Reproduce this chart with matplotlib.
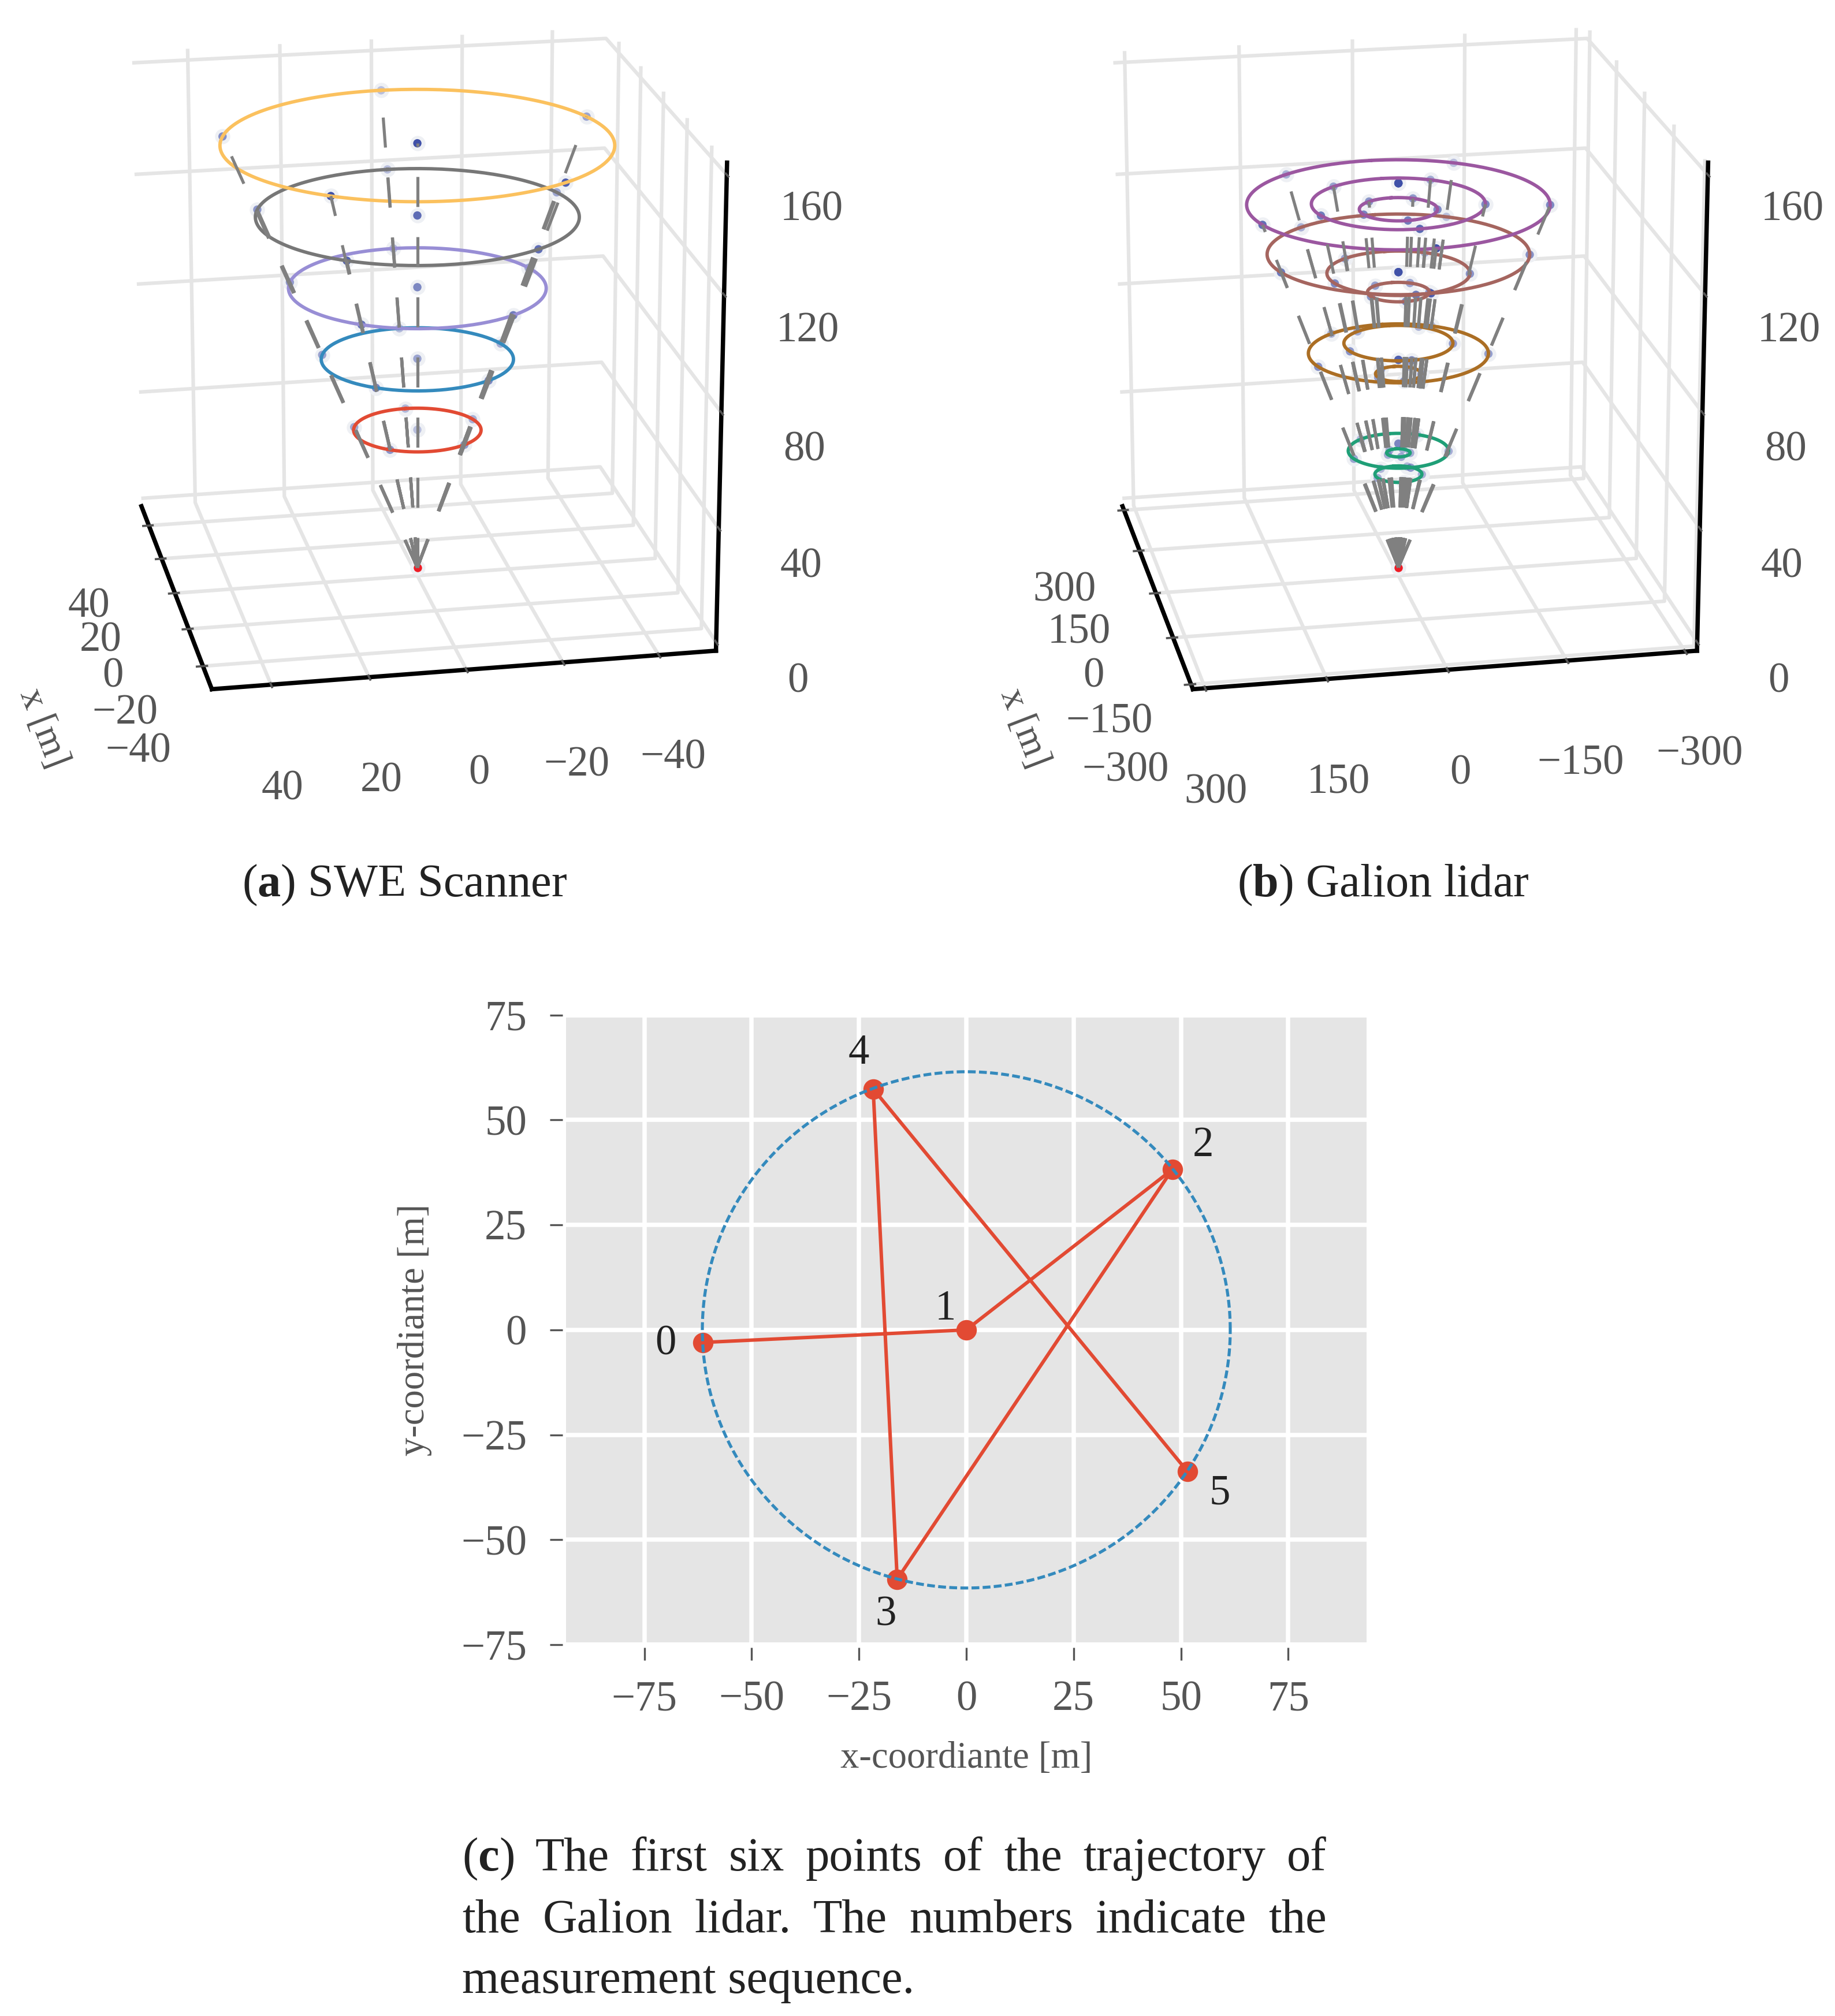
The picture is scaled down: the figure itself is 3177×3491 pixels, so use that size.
#!/usr/bin/env python3
import numpy as np
import matplotlib
matplotlib.use("Agg")
import matplotlib.pyplot as plt

plt.rcParams['font.family'] = ['Liberation Serif', 'DejaVu Serif']
plt.rcParams['mathtext.fontset'] = 'custom'
plt.rcParams['mathtext.rm'] = 'Liberation Serif'
plt.rcParams['mathtext.bf'] = 'Liberation Serif:bold'

# ----------------------------------------------------------------------
# Data
# ----------------------------------------------------------------------
swe_ticks = [-40, -20, 0, 20, 40]
swe_lim = 52
swe_heights = [50, 75.4, 100.7, 125.8, 150.8]
swe_radii = [13.4, 20.1, 26.8, 33.5, 40.6]
swe_colors = ['#E24A33', '#348ABD', '#988ED5', '#777777', '#FBC15E']
swe_angles = [0, 72, 144, 216, 288]

gal_ticks = [-300, -150, 0, 150, 300]
gal_lim = 315
gal_heights = [42.5, 34, 41.7, 77.5, 81, 70, 112.6, 105.7, 99, 130, 130, 128]
gal_radii = [64, 30, 15, 114, 69, 29, 165, 90, 39, 190, 109, 49]
gal_colors = ['#1F9F77'] * 3 + ['#AB6E24'] * 3 + ['#A5655F'] * 3 + ['#9B57A0'] * 3
gal_angles = [38, -33, -103, -177, 107]
gal_centre = [45, 75, 106, 137]

z_ticks = [0, 40, 80, 120, 160]

traj_x = [-61.4, 0, 48, -16.1, -21.7, 51.5]
traj_y = [-3, 0, 38.2, -59.4, 57.4, -33.7]
traj_labels = ['0', '1', '2', '3', '4', '5']
label_x = [-70, -4.9, 55.2, -18.7, -25, 59]
label_y = [-3.4, 4.9, 43.9, -68, 65.8, -39]
scan_radius = 61.5
ticks_c = [-75, -50, -25, 0, 25, 50, 75]

caption_lines = [
    ['($\\mathbf{c}$)', 'The', 'first', 'six', 'points', 'of', 'the', 'trajectory', 'of'],
    ['the', 'Galion', 'lidar.', ' The', 'numbers', 'indicate', 'the'],
]
caption_last = 'measurement sequence.'

# ----------------------------------------------------------------------
W, H = 1429.0, 1569.0   # layout below in preview pixels
DARK = '#222222'
GREY = '#555555'
TICK_FS = 17.5
LABEL_FS = 15.5
CAP_FS = 19.3


def px(x):
    return x / W


def py(y):
    return 1 - y / H


def draw_cone(rect, lim, ticks, heights, radii, colors, angles, centre, centre_beam):
    ax = fig.add_axes(rect, projection='3d', computed_zorder=False)
    ax.set_proj_type('persp')
    ax.view_init(elev=19, azim=169)
    ax.set_box_aspect((1, 1, 1.0), zoom=0.978)
    ax.set_xlim(-lim, lim)
    ax.set_ylim(-lim, lim)
    ax.set_zlim(-3, 164)
    ax.set_xticks(ticks)
    ax.set_yticks(ticks)
    ax.set_zticks(z_ticks)
    ax.patch.set_alpha(0)

    for axis in (ax.xaxis, ax.yaxis, ax.zaxis):
        axis.pane.set_facecolor((1, 1, 1, 0))
        axis.pane.set_edgecolor((1, 1, 1, 0))
        axis.line.set_color('black')
        axis.line.set_linewidth(1.8)
        axis._axinfo['grid'].update(color='#E5E5E5', linewidth=1.5)
        axis._axinfo['tick'].update(inward_factor=0.15, outward_factor=0.1,
                                    linewidth={True: 0.9, False: 0.9})
    ax.tick_params(axis='both', colors=GREY, labelsize=TICK_FS)
    ax.tick_params(axis='x', pad=16)
    ax.tick_params(axis='y', pad=15)
    ax.tick_params(axis='z', pad=16)
    ax.set_xlabel('x [m]', fontsize=LABEL_FS, color=GREY, labelpad=30)

    th = np.radians(angles)
    pt_x, pt_y, pt_z = [], [], []
    for z, r in zip(heights, radii):
        pt_x.extend(r * np.cos(th))
        pt_y.extend(r * np.sin(th))
        pt_z.extend([z] * len(th))
    cx = [0] * len(centre)
    # halos then points
    ax.scatter(pt_x + cx + [0], pt_y + cx + [0], pt_z + centre + [0], s=40,
               color='#EEF0F4', depthshade=False, linewidths=0, zorder=1)
    ax.scatter(pt_x, pt_y, pt_z, s=12, color='#3F50A8', depthshade=True,
               linewidths=0, zorder=2)
    # the Galion centre points were measured several times, so they are darker
    repeat = 1 if centre_beam else 3
    for k in range(repeat):
        ax.scatter(cx, cx, centre, s=12, color='#3F50A8', depthshade=True,
                   linewidths=0, zorder=2)
    ax.scatter([0], [0], [0], s=12, color='#EE1C25', depthshade=False,
               linewidths=0, zorder=2)

    # rings
    circ = np.linspace(0, 2 * np.pi, 181)
    for z, r, c in zip(heights, radii, colors):
        ax.plot(r * np.cos(circ), r * np.sin(circ), z, color=c, lw=1.4, zorder=3)

    # beams
    for x, y, z in zip(pt_x, pt_y, pt_z):
        ax.plot([0, x], [0, y], [0, z], color='#808080', lw=1.25,
                linestyle=(0, (10, 10)), dash_capstyle='butt', zorder=4)
    if centre_beam:
        ax.plot([0, 0], [0, 0], [0, max(centre)], color='#808080', lw=1.25,
                linestyle=(0, (10, 10)), dash_capstyle='butt', zorder=4)
    return ax


fig = plt.figure(figsize=(3177 / 300, 3491 / 300), dpi=300)

ax_a = draw_cone([px(-37), py(610), px(706), 666 / H], swe_lim, swe_ticks, swe_heights,
                 swe_radii, swe_colors, swe_angles, swe_heights, True)
ax_b = draw_cone([px(727), py(610), px(706), 666 / H], gal_lim, gal_ticks, gal_heights,
                 gal_radii, gal_colors, gal_angles, gal_centre, False)

# ----------------------------------------------------------------------
# panel c
# ----------------------------------------------------------------------
ax_c = fig.add_axes([px(441), py(1280), px(1064 - 441), (1280 - 790) / H])
ax_c.set_facecolor('none')
ax_c.set_xlim(-93.2, 93.2)
ax_c.set_ylim(-75, 75)
ax_c.axhspan(-74.4, 74.4, color='#E5E5E5', lw=0, zorder=0)
ax_c.set_xticks(ticks_c)
ax_c.set_yticks(ticks_c)
ax_c.grid(True, color='white', lw=1.8, zorder=1)
ax_c.set_axisbelow(True)
for s in ax_c.spines.values():
    s.set_visible(False)
ax_c.spines['left'].set_position(('outward', 1.6))
ax_c.spines['bottom'].set_position(('outward', 1.2))
ax_c.tick_params(axis='both', direction='out', length=5.3, width=0.8, color=GREY,
                 labelcolor=GREY, labelsize=TICK_FS)
ax_c.tick_params(axis='x', pad=8.5)
ax_c.tick_params(axis='y', pad=9.5)
ax_c.set_xlabel('x-coordiante [m]', fontsize=LABEL_FS, color=GREY, labelpad=9)
ax_c.set_ylabel('y-coordiante [m]', fontsize=LABEL_FS, color=GREY, labelpad=12)

circ = np.linspace(0, 2 * np.pi, 361)
ax_c.plot(traj_x, traj_y, color='#E24A33', lw=1.45, marker='o', ms=7.5, zorder=4)
ax_c.plot(scan_radius * np.cos(circ), scan_radius * np.sin(circ), color='#348ABD',
          lw=1.25, linestyle=(0, (2.6, 1.1)), zorder=5)
for tx, ty, s in zip(label_x, label_y, traj_labels):
    ax_c.text(tx, ty, s, fontsize=TICK_FS, color=DARK, ha='center', va='center')

# ----------------------------------------------------------------------
# captions
# ----------------------------------------------------------------------
fig.text(px(315), py(689), '($\\mathbf{a}$) SWE Scanner', fontsize=CAP_FS, color=DARK,
         ha='center', va='center')
fig.text(px(1077), py(689), '($\\mathbf{b}$) Galion lidar', fontsize=CAP_FS, color=DARK,
         ha='center', va='center')

renderer = fig.canvas.get_renderer()
cap_l, cap_r = px(360), px(1033)
for words, y in zip(caption_lines, [1447, 1495]):
    items = [fig.text(cap_l, py(y), w.strip(), fontsize=19.8, color=DARK, va='center')
             for w in words]
    widths = [t.get_window_extent(renderer).width / fig.bbox.width for t in items]
    gap = (cap_r - cap_l - sum(widths)) / (len(items) - 1)
    x = cap_l
    for t, wd in zip(items, widths):
        t.set_x(x)
        x += wd + gap
fig.text(cap_l, py(1542), caption_last, fontsize=19.8, color=DARK, va='center')

fig.savefig('out.png', dpi=300, facecolor='white')
